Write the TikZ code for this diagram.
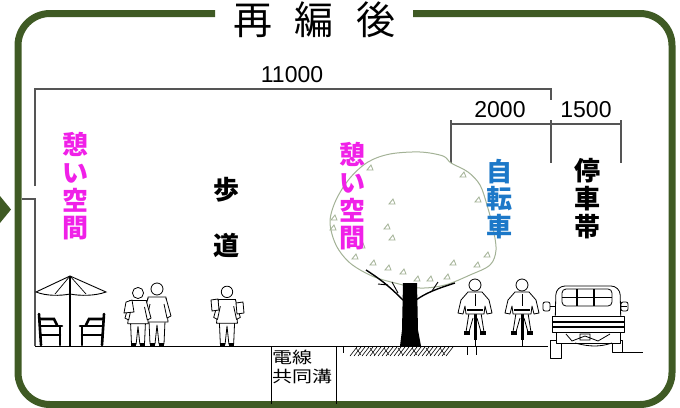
\documentclass[tikz,border=0pt]{standalone}
\usepackage{fontspec}
\usepackage{graphicx}
\setmainfont{Liberation Sans}
\newfontfamily\jpfont{Noto Sans CJK JP}

\definecolor{framegreen}{HTML}{3F5A24}
\definecolor{restpink}{HTML}{F020E8}
\definecolor{bikeblue}{HTML}{1C78C8}
\definecolor{dimgray}{HTML}{555555}
\definecolor{leafline}{HTML}{A3B296}

\begin{document}
\begin{tikzpicture}[x=1pt,y=-1pt,
  frameline/.style={draw=framegreen,line width=7pt,rounded corners=32pt},
  dimline/.style={draw=dimgray,line width=1.1pt},
  dimnum/.style={inner sep=0pt,font=\fontsize{23}{23}\selectfont},
  vlabel/.style={inner sep=0pt,align=center,font=\jpfont\bfseries\fontsize{26}{27.7}\selectfont},
  fig/.style={draw=black,fill=white,line width=0.8pt,line join=round},
  thickblk/.style={draw=black,line width=2.6pt,line cap=round},
  leafmark/.style={draw=leafline,line width=0.8pt},
  walker/.pic={
    \draw[fig] (-8,-25) -- (-7,-2) -- (-2,-2) -- (0,-21) -- (2,-2) -- (7,-2) -- (8,-25) -- cycle;
    \draw[fig] (-9,-49) -- (9,-49) -- (11,-24) -- (-11,-24) -- cycle;
    \draw[fig] (-9,-48) -- (-14,-30) -- (-10,-28) -- (-7,-42);
    \draw[fig] (9,-48) -- (14,-30) -- (10,-28) -- (7,-42);
    \draw[fig] (0,-57) circle[radius=6];
    \fill (-7,-3) rectangle (-2,0);
    \fill (2,-3) rectangle (7,0);
  },
  cyclist/.pic={
    \draw[black,line width=3pt] (0,-36) -- (0,-6);
    \draw[black,line width=1pt] (0,-6) -- (0,0);
    \draw[fig] (-6,-33) -- (-9,-14) -- (-6,-14) -- (-2,-28);
    \draw[fig] (6,-33) -- (9,-14) -- (6,-14) -- (2,-28);
    \fill (-11,-15) rectangle (-5,-11);
    \fill (5,-15) rectangle (11,-11);
    \draw[fig] (-7,-54) -- (7,-54) -- (14,-46) -- (17,-33) -- (12,-32) -- (10,-40)
      -- (9,-32) -- (-9,-32) -- (-10,-40) -- (-12,-32) -- (-17,-33) -- (-14,-46) -- cycle;
    \draw[black,line width=0.7pt] (0,-52) -- (0,-40);
    \draw[black,line width=2pt] (-8,-36) -- (8,-36);
    \draw[fig] (0,-61) circle[radius=6];
  }
]
\useasboundingbox (0,0) rectangle (680,407);

% outer frame with an opening for the title
\draw[frameline] (413,13.5) -- (672,13.5) -- (672,404.5) -- (18,404.5) -- (18,13.5) -- (215,13.5);
\fill[framegreen] (0,196) -- (11,209.5) -- (0,223) -- cycle;
\node[inner sep=0pt,anchor=base,font=\jpfont\fontsize{39}{39}\selectfont] (title) at (314.5,34)
  {再\hspace{23pt}編\hspace{23pt}後};

% dimension lines
\coordinate (dimL) at (35,89);
\coordinate (dimR) at (551,89);
\draw[dimline] (35,186) -- (dimL) -- (dimR) -- (551,100);
\draw[dimline] (22,199) -- (35,199) -- (35,346);
\node[dimnum] (total) at (292,75) {11000};
\coordinate (bA) at (451,124);
\coordinate (bB) at (551,124);
\coordinate (bC) at (621,124);
\draw[dimline] (bA) -- (bB) -- (bC);
\draw[dimline] (451,120) -- (451,163);
\draw[dimline] (551,120) -- (551,163);
\draw[dimline] (621,120) -- (621,163);
\node[dimnum] (bikew) at (500,110) {2000};
\node[dimnum] (parkw) at (586,110) {1500};

% ground
\draw[black,line width=1pt] (35,346) -- (548,346);
\draw[black,line width=1pt] (613,352) -- (643,352);
\draw[black,line width=0.8pt] (271,346) -- (271,404) (336,346) -- (336,404);
\draw[black,line width=0.8pt] (343,346) -- (343,353);
\draw[black,line width=0.7pt] (467,346) -- (467,355) (476,346) -- (476,355);
\node[inner sep=0pt,anchor=north west,font=\jpfont\fontsize{16}{17}\selectfont] (duct) at (272,350)
  {\scalebox{1.25}[1]{\begin{tabular}{@{}l@{}}電線\\共同溝\end{tabular}}};
\foreach \x in {350,354,...,446} {
  \draw[black,line width=0.6pt] (\x,356) -- (\x+7,347);
}
\foreach \x in {356,370,...,440} {
  \draw[black,line width=0.5pt] (\x,348) -- (\x+5,355);
}

% street tree
\draw[leafline,fill=white,line width=1pt] plot[smooth cycle,tension=0.55] coordinates {
  (330,222) (336,200) (350,178) (368,162) (390,154) (420,152) (443,156) (451,163)
  (468,172) (480,185) (487,205) (493,228) (496,250) (490,265) (470,275) (445,285)
  (420,288) (395,283) (372,276) (350,263) (336,245)};
\foreach \p in {(370,168),(392,202),(387,227),(392,238),(355,257),(373,263),(388,268),
  (453,263),(447,277),(477,265),(463,175),(478,200),(333,228),(334,218),(430,279),
  (417,279),(487,255),(403,272),(362,246)} {
  \draw[leafmark] \p ++(-3,2) -- ++(6,0) -- ++(-2,-5) -- cycle;
}
\draw[black,line width=1.4pt] (405,302) .. controls (395,292) and (385,282) .. (366,270);
\draw[black,line width=1.4pt] (416,300) .. controls (426,293) and (436,289) .. (455,283);
\draw[black,line width=0.9pt] (388,285) -- (378,284);
\draw[black,line width=0.9pt] (398,293) -- (392,282);
\draw[black,line width=0.9pt] (432,291) -- (438,282);
\fill[black] (403,283) -- (417,283) -- (418,330) -- (421,346) -- (400,346) -- (402,330) -- cycle;

% outdoor table with parasol
\draw[black,line width=0.9pt,fill=white] (36,292) -- (70,276) -- (106,292)
  .. controls (95,296) and (80,296) .. (70,294) .. controls (60,296) and (46,296) .. cycle;
\draw[black,line width=0.7pt] (70,276) -- (55,294) (70,276) -- (86,294);
\draw[black,line width=1.6pt] (70,276) -- (70,346);
\draw[thickblk] (39,314) -- (41,345);
\draw[thickblk] (40,326) -- (62,326);
\draw[thickblk] (60,327) -- (60,345);
\draw[thickblk] (41,335) -- (60,335);
\draw[thickblk] (40,319) -- (54,319) -- (57,325);
\draw[thickblk] (104,314) -- (102,345);
\draw[thickblk] (103,326) -- (80,326);
\draw[thickblk] (82,327) -- (82,345);
\draw[thickblk] (102,335) -- (82,335);
\draw[thickblk] (103,319) -- (89,319) -- (86,325);

% pedestrians
\pic at (157,346) {walker};
\pic[scale=0.93] at (138,346) {walker};
\draw[fig] (126,302) -- (132,300) -- (134,312) -- (124,313) -- cycle;
\pic[scale=0.95] at (227,346) {walker};
\draw[fig] (211,300) -- (218,299) -- (219,310) -- (212,311) -- cycle;
\draw[fig] (236,303) -- (243,302) -- (244,313) -- (237,314) -- cycle;

% cyclists
\pic at (475,346) {cyclist};
\pic at (522,346) {cyclist};

% parked vehicle, rear view
\draw[fig] (550,340) rectangle (561,358);
\draw[fig] (612,340) rectangle (622,352);
\draw[fig,rounded corners=9pt] (555,330) -- (556,286) -- (620,286) -- (621,330);
\draw[fig,rounded corners=4pt] (562,289) rectangle (612,306);
\draw[black,line width=1.4pt] (577,289) -- (577,306) (594,289) -- (594,306) (562,297.5) -- (612,297.5);
\draw[fig,rounded corners=2pt] (543,302) rectangle (550,311);
\draw[fig,rounded corners=2pt] (621,302) rectangle (628,311);
\draw[black,line width=0.8pt] (550,306) -- (556,306) (621,306) -- (627,306);
\draw[fig] (552,316) rectangle (624,332);
\draw[black,line width=1.2pt] (552,322) -- (624,322) (552,327) -- (624,327);
\draw[fig] (556,332) rectangle (620,343);
\draw[black,line width=0.8pt] (566,334) -- (572,341) -- (585,336) -- (598,341) -- (610,334)
  (575,343) .. controls (590,347) and (600,347) .. (612,343) (580,334) rectangle (590,340);

% lane labels
\node[vlabel,text=restpink] (rest1) at (75,186.5) {憩\\い\\空\\間};
\node[vlabel] (walk1) at (226,190) {歩};
\node[vlabel] (walk2) at (226,245) {道};
\node[vlabel,text=restpink] (rest2) at (352,196.5) {憩\\い\\空\\間};
\node[vlabel,text=bikeblue] (bike) at (499,199) {自\\転\\車};
\node[vlabel] (park) at (587,198.5) {停\\車\\帯};
\end{tikzpicture}
\end{document}
